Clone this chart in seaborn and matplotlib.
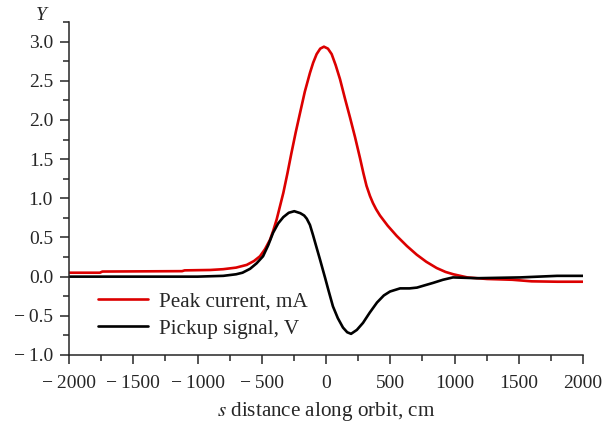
import numpy as np
import pandas as pd
import matplotlib
matplotlib.use("Agg")
import matplotlib.pyplot as plt
import seaborn as sns
from matplotlib.ticker import MultipleLocator, FuncFormatter

# values
current_s = [-2000, -1760, -1740, -1120, -1100, -900, -800, -700, -617, -560,
             -514, -475, -436, -410, -384, -358, -332, -300, -270, -236,
             -202, -165, -125, -100, -73, -45, -16, 15, 44, 75,
             109, 148, 187, 226, 265, 291, 315, 342, 365, 390,
             420, 480, 550, 630, 706, 780, 861, 930, 991, 1100,
             1253, 1450, 1600, 1800, 2000]
current_mA = [0.05, 0.05, 0.065, 0.07, 0.08, 0.085, 0.095, 0.115, 0.15, 0.20,
              0.26, 0.35, 0.47, 0.59, 0.73, 0.90, 1.07, 1.32, 1.57, 1.84,
              2.09, 2.36, 2.60, 2.73, 2.84, 2.91, 2.935, 2.91, 2.84, 2.70,
              2.52, 2.27, 2.03, 1.78, 1.51, 1.32, 1.16, 1.03, 0.94, 0.86,
              0.78, 0.65, 0.52, 0.39, 0.28, 0.19, 0.11, 0.06, 0.03, -0.01,
              -0.03, -0.04, -0.06, -0.065, -0.065]

pickup_s = [-2000, -1500, -1000, -800, -700, -650, -591, -540, -490, -450,
            -412, -372, -332, -290, -247, -200, -170, -150, -125, -101,
            -75, -47, -25, -8, 20, 54, 92, 132, 165, 195,
            240, 288, 340, 397, 450, 498, 576, 650, 708, 770,
            833, 910, 988, 1175, 1510, 1798, 2000]
pickup_V = [0.0, 0.0, 0.0, 0.01, 0.03, 0.05, 0.10, 0.17, 0.26, 0.40,
            0.56, 0.68, 0.76, 0.815, 0.835, 0.81, 0.78, 0.74, 0.66, 0.53,
            0.38, 0.22, 0.09, -0.01, -0.18, -0.38, -0.53, -0.65, -0.71, -0.73,
            -0.68, -0.59, -0.46, -0.33, -0.24, -0.19, -0.15, -0.15, -0.14, -0.11,
            -0.08, -0.04, -0.01, -0.02, -0.01, 0.01, 0.01]

sns.set_style("ticks")
plt.rcParams['font.family'] = ['Liberation Serif', 'DejaVu Serif']
plt.rcParams['mathtext.fontset'] = 'stix'
fs_tick = 14
fs_text = 15.2

fig = plt.figure(figsize=(6.08, 4.28), dpi=100)
ax = fig.add_axes([0.1135, 0.1706, 0.8454, 0.778])

sns.lineplot(x=current_s, y=current_mA, color="#dc0000", linewidth=1.9,
             sort=False, label="Peak current, mA", ax=ax)
sns.lineplot(x=pickup_s, y=pickup_V, color="black", linewidth=1.9,
             sort=False, label="Pickup signal, V", ax=ax)

ax.set_xlim(-2000, 2000)
ax.set_ylim(-1.0, 3.25)
ax.xaxis.set_major_locator(MultipleLocator(500))
ax.xaxis.set_minor_locator(MultipleLocator(250))
ax.yaxis.set_major_locator(MultipleLocator(0.5))
ax.yaxis.set_minor_locator(MultipleLocator(0.25))


def fmt(fmtstr):
    def f(v, pos):
        s = fmtstr % v
        if s.startswith('-'):
            s = '\u2212\u2009' + s[1:]
        return s
    return FuncFormatter(f)


ax.xaxis.set_major_formatter(fmt('%d'))
ax.yaxis.set_major_formatter(fmt('%.1f'))

sns.despine(ax=ax)
for sp in ['left', 'bottom']:
    ax.spines[sp].set_linewidth(1.1)
ax.tick_params(which='major', length=6.5, width=1.1, labelsize=fs_tick, direction='out')
ax.tick_params(axis='x', which='major', pad=8)
ax.tick_params(axis='y', which='major', pad=5)
ax.tick_params(which='minor', length=4.5, width=1.1, direction='out')

ax.set_xlabel("$s$ distance along orbit, cm", fontsize=fs_text, labelpad=6)
ax.set_ylabel("")
ax.text(-0.053, 1.02, "Y", transform=ax.transAxes, fontsize=fs_tick,
        style='italic', ha='center', va='center')

ax.legend(loc='upper left', bbox_to_anchor=(0.056, 0.19), frameon=False,
          fontsize=fs_text, handlelength=2.4, handletextpad=0.5,
          labelspacing=0.35, borderpad=0, borderaxespad=0)

fig.savefig("out.png", dpi=100)
